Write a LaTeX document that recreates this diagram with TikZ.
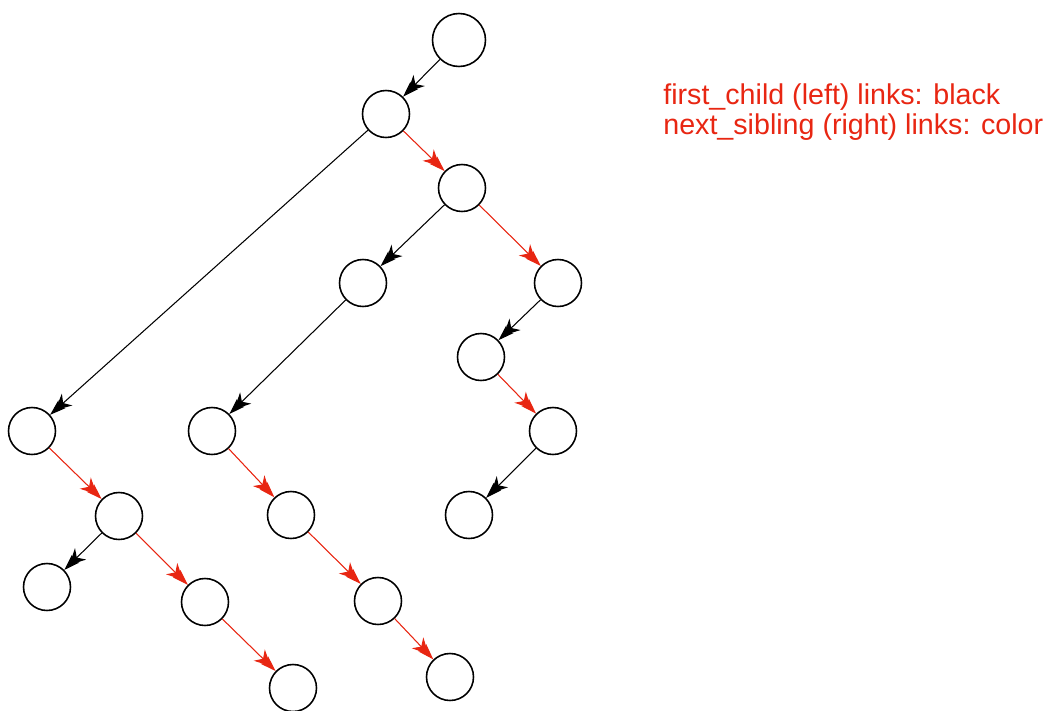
\documentclass[tikz,border=0pt]{standalone}
\usepackage{fontspec}
\setmainfont{Liberation Sans}
\usepackage{tikz}
\usetikzlibrary{arrows.meta}
\definecolor{linkred}{RGB}{232,38,18}

\begin{document}
\begin{tikzpicture}[x=0.02cm,y=-0.02cm,
    vert/.style={draw,circle,line width=0.9pt,minimum size=0.94cm,inner sep=0pt},
    firstlink/.style={line width=0.6pt,-{Stealth[length=9pt,width=9pt,inset=3pt,sep=-5pt]Stealth[length=9pt,width=6pt,inset=2pt]}},
    nextlink/.style={firstlink,draw=linkred,fill=linkred}]
  \useasboundingbox (0,0) rectangle (1058,710);
  \node (r)   [vert,minimum size=1.06cm] at (459,40) {};
  \node (a)   [vert] at (386,114) {};
  \node (b)   [vert] at (462,188) {};
  \node (c)   [vert] at (363,283) {};
  \node (d)   [vert] at (558,283) {};
  \node (e)   [vert] at (481,357) {};
  \node (f)   [vert] at (553,431) {};
  \node (g)   [vert] at (469,515) {};
  \node (h)   [vert] at (32,431) {};
  \node (i)   [vert] at (212,431) {};
  \node (j)   [vert] at (119,516) {};
  \node (k)   [vert] at (291,515) {};
  \node (l)   [vert] at (47,587) {};
  \node (m)   [vert] at (205,602) {};
  \node (n)   [vert] at (378,601) {};
  \node (o)   [vert] at (293,688) {};
  \node (p)   [vert] at (450,677) {};
  % first child links
  \draw[firstlink] (r) -- (a);
  \draw[firstlink] (a) -- (h);
  \draw[firstlink] (b) -- (c);
  \draw[firstlink] (c) -- (i);
  \draw[firstlink] (d) -- (e);
  \draw[firstlink] (f) -- (g);
  \draw[firstlink] (j) -- (l);
  % next sibling links
  \draw[nextlink] (a) -- (b);
  \draw[nextlink] (b) -- (d);
  \draw[nextlink] (e) -- (f);
  \draw[nextlink] (h) -- (j);
  \draw[nextlink] (j) -- (m);
  \draw[nextlink] (m) -- (o);
  \draw[nextlink] (i) -- (k);
  \draw[nextlink] (k) -- (n);
  \draw[nextlink] (n) -- (p);
  \node (legend) [anchor=base west,text=linkred,align=left,inner sep=0pt,
    font=\fontsize{16.3pt}{17pt}\selectfont] at (663,134)
    {first\_child (left) links: black\\next\_sibling (right) links: color};
\end{tikzpicture}
\end{document}
